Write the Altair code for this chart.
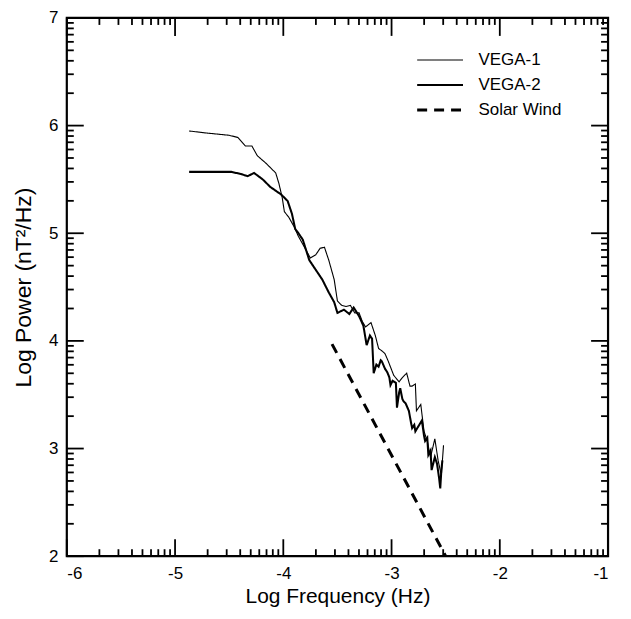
import altair as alt
import pandas as pd

# ---------------- data ----------------
series_names = ["VEGA-1", "VEGA-2", "Solar Wind"]

vega1_x = [-4.87, -4.70, -4.50, -4.42, -4.35, -4.29, -4.24, -4.16, -4.07, -4.04,
           -4.01, -3.99, -3.95, -3.90, -3.86, -3.81, -3.75, -3.70, -3.66, -3.62,
           -3.58, -3.53, -3.50, -3.46, -3.42, -3.38, -3.34, -3.30, -3.27, -3.24,
           -3.19, -3.15, -3.12, -3.08, -3.06, -3.03, -2.98, -2.93, -2.90, -2.86,
           -2.83, -2.81, -2.78, -2.77, -2.73, -2.70, -2.67, -2.64, -2.60, -2.57,
           -2.54, -2.52]
vega1_y = [5.95, 5.93, 5.91, 5.89, 5.81, 5.81, 5.72, 5.65, 5.56, 5.46,
           5.33, 5.20, 5.15, 5.06, 4.97, 4.88, 4.77, 4.80, 4.86, 4.87,
           4.75, 4.57, 4.37, 4.33, 4.32, 4.33, 4.26, 4.26, 4.18, 4.13,
           4.17, 4.05, 3.93, 3.90, 3.88, 3.81, 3.68, 3.62, 3.66, 3.70,
           3.58, 3.58, 3.60, 3.35, 3.41, 3.16, 3.07, 2.92, 3.09, 2.89,
           2.75, 3.03]

vega2_x = [-4.87, -4.48, -4.39, -4.33, -4.27, -4.19, -4.12, -4.02, -3.96, -3.92,
           -3.89, -3.86, -3.82, -3.76, -3.70, -3.64, -3.58, -3.53, -3.50, -3.44,
           -3.39, -3.35, -3.30, -3.26, -3.23, -3.20, -3.18, -3.165, -3.14, -3.12,
           -3.10, -3.09, -3.06, -3.04, -3.02, -3.01, -2.99, -2.96, -2.95, -2.93,
           -2.92, -2.90, -2.89, -2.87, -2.84, -2.82, -2.81, -2.79, -2.78, -2.75,
           -2.72, -2.70, -2.69, -2.67, -2.66, -2.64, -2.63, -2.60, -2.58, -2.56,
           -2.55, -2.54, -2.53]
vega2_y = [5.57, 5.57, 5.55, 5.53, 5.56, 5.50, 5.43, 5.36, 5.30, 5.18,
           5.04, 5.00, 4.94, 4.75, 4.66, 4.57, 4.45, 4.36, 4.26, 4.29,
           4.25, 4.31, 4.23, 4.14, 3.96, 4.05, 4.02, 3.70, 3.78, 3.76,
           3.82, 3.81, 3.74, 3.71, 3.66, 3.59, 3.63, 3.61, 3.38, 3.52,
           3.56, 3.46, 3.44, 3.42, 3.35, 3.24, 3.19, 3.22, 3.16, 3.21,
           3.26, 3.12, 3.07, 3.10, 2.94, 2.98, 2.80, 2.92, 2.86, 2.72,
           2.63, 2.80, 2.89]

solar_x = [-3.55, -2.50]
solar_y = [3.97, 2.00]

x_major = [-6, -5, -4, -3, -2, -1]
y_major = [2, 3, 4, 5, 6, 7]
minor_offsets = [0.301, 0.477, 0.602, 0.699, 0.778, 0.845, 0.903, 0.954]

# ---------------- tables ----------------
rows = []
for name, xs_, ys_ in [("VEGA-1", vega1_x, vega1_y),
                       ("VEGA-2", vega2_x, vega2_y),
                       ("Solar Wind", solar_x, solar_y)]:
    for i, (a, b) in enumerate(zip(xs_, ys_)):
        rows.append({"series": name, "x": a, "y": b, "idx": i})
df = pd.DataFrame(rows)

x_minor = [n + o for n in x_major[:-1] for o in minor_offsets]
y_minor = [n + o for n in y_major[:-1] for o in minor_offsets]
dx_major = pd.DataFrame({"x": x_major})
dx_minor = pd.DataFrame({"x": x_minor})
dy_major = pd.DataFrame({"y": y_major})
dy_minor = pd.DataFrame({"y": y_minor})

W, H = 543, 540
FONT = "Liberation Sans"

xscale = alt.Scale(domain=[-6, -1], nice=False, zero=False)
yscale = alt.Scale(domain=[2, 7], nice=False, zero=False)

xaxis = alt.Axis(values=x_major, tickSize=0, domain=False, grid=False,
                 labelFontSize=17, labelPadding=9, labelExpr="'' + datum.value",
                 labelColor="black", title="Log Frequency (Hz)", titleFontSize=21,
                 titleFontWeight="normal", titlePadding=4, titleColor="black")
yaxis = alt.Axis(values=y_major, tickSize=0, domain=False, grid=False,
                 labelFontSize=17, labelPadding=9, labelExpr="'' + datum.value",
                 labelColor="black", title="Log Power (nT²/Hz)", titleFontSize=23,
                 titleFontWeight="normal", titlePadding=13, titleColor="black")

X = alt.X("x:Q", scale=xscale, axis=xaxis)
Y = alt.Y("y:Q", scale=yscale, axis=yaxis)

leg = alt.Legend(title=None, orient="none", legendX=350, legendY=30,
                 symbolType="stroke", symbolSize=2116, clipHeight=24.5,
                 rowPadding=0, padding=0, labelOffset=14, labelFontSize=17,
                 labelColor="black", labelFont=FONT)

lines = alt.Chart(df).mark_line(strokeJoin="miter").encode(
    x=X, y=Y,
    color=alt.Color("series:N", scale=alt.Scale(domain=series_names,
                                                range=["black", "black", "black"]),
                    legend=leg),
    strokeDash=alt.StrokeDash("series:N", scale=alt.Scale(domain=series_names,
                                                          range=[[1, 0], [1, 0], [10, 7]]),
                              legend=leg),
    strokeWidth=alt.StrokeWidth("series:N", scale=alt.Scale(domain=series_names,
                                                            range=[1.1, 3.0, 1.8]),
                                legend=leg),
    order="idx:Q",
)

TW = 1.8
bot_major = alt.Chart(dx_major).mark_rule(color="black", strokeWidth=TW).encode(
    x=X, y=alt.value(H), y2=alt.value(H - 17))
bot_minor = alt.Chart(dx_minor).mark_rule(color="black", strokeWidth=TW).encode(
    x=X, y=alt.value(H), y2=alt.value(H - 7))
top_major = alt.Chart(dx_major).mark_rule(color="black", strokeWidth=TW).encode(
    x=X, y=alt.value(0), y2=alt.value(18))
top_minor = alt.Chart(dx_minor).mark_rule(color="black", strokeWidth=TW).encode(
    x=X, y=alt.value(0), y2=alt.value(7))
left_major = alt.Chart(dy_major).mark_rule(color="black", strokeWidth=TW).encode(
    y=Y, x=alt.value(0), x2=alt.value(17))
left_minor = alt.Chart(dy_minor).mark_rule(color="black", strokeWidth=TW).encode(
    y=Y, x=alt.value(0), x2=alt.value(7))
right_major = alt.Chart(dy_major).mark_rule(color="black", strokeWidth=TW).encode(
    y=Y, x=alt.value(W), x2=alt.value(W - 17))
right_minor = alt.Chart(dy_minor).mark_rule(color="black", strokeWidth=TW).encode(
    y=Y, x=alt.value(W), x2=alt.value(W - 7))

chart = alt.layer(
    bot_major, bot_minor, top_major, top_minor,
    left_major, left_minor, right_major, right_minor, lines
).properties(
    width=W, height=H,
    autosize=alt.AutoSizeParams(type="none"),
    padding={"left": 59, "top": 9, "right": 15, "bottom": 54},
).configure(font=FONT).configure_view(
    stroke="black", strokeWidth=2.2
).configure_axis(labelFont=FONT, titleFont=FONT)

chart.save("out.html", embed_options={"renderer": "svg", "actions": False})
